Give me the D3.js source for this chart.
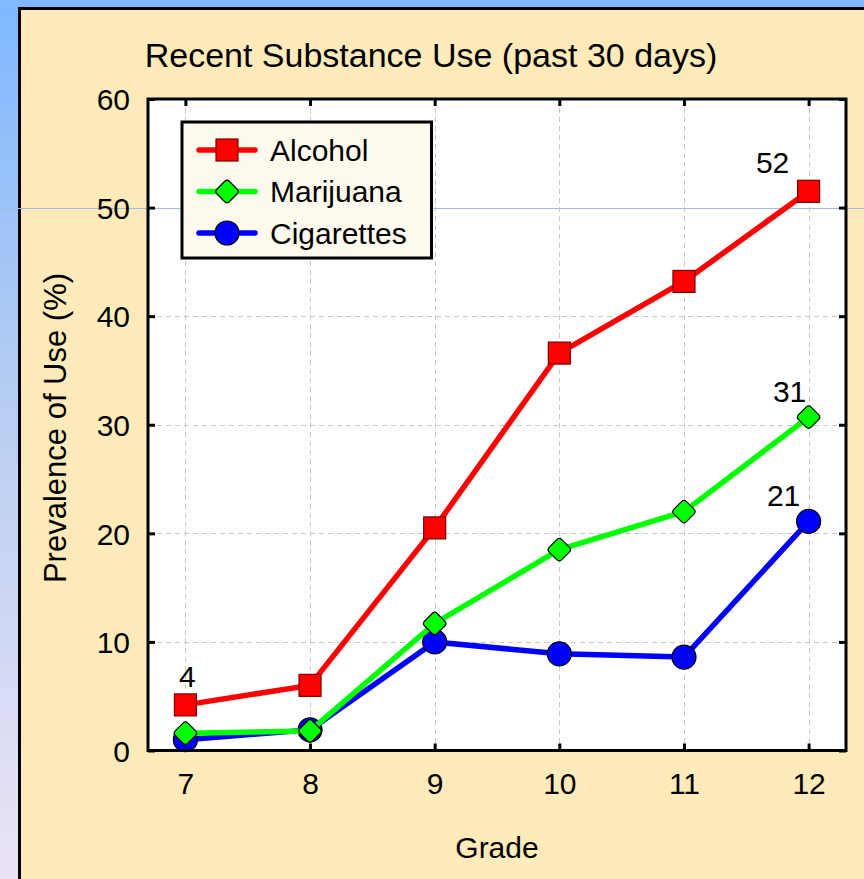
<!DOCTYPE html>
<html>
<head>
<meta charset="utf-8">
<script src="https://cdn.jsdelivr.net/npm/d3@7"></script>
<style>
  html, body { margin: 0; padding: 0; background: #80b9ff; }
  svg { display: block; }
  text { font-family: Arial, "Liberation Sans", sans-serif; fill: #000; }
</style>
</head>
<body>
<script>
// Grades surveyed and the share of students reporting use in the past 30 days
const grades = [7, 8, 9, 10, 11, 12];
const alcohol = [4.2, 6.0, 20.5, 36.6, 43.2, 51.5];
const marijuana = [1.6, 1.8, 11.7, 18.5, 22.0, 30.7];
const cigarettes = [1.0, 1.9, 10.0, 8.9, 8.6, 21.1];
const seriesNames = ["Alcohol", "Marijuana", "Cigarettes"];
const yTicks = [0, 10, 20, 30, 40, 50, 60];

const W = 864, H = 879;
const FONT = "Arial, 'Liberation Sans', sans-serif";
const svg = d3.select("body").append("svg").attr("width", W).attr("height", H);

// Backdrop: blue band with a soft gradient down the left edge
const defs = svg.append("defs");
const grad = defs.append("linearGradient").attr("id", "edge").attr("x1", 0).attr("y1", 0).attr("x2", 0).attr("y2", 1);
grad.append("stop").attr("offset", "0%").attr("stop-color", "#7fb8ff");
grad.append("stop").attr("offset", "45%").attr("stop-color", "#b6cdf2");
grad.append("stop").attr("offset", "100%").attr("stop-color", "#ebe3f5");
svg.append("rect").attr("width", W).attr("height", H).attr("fill", "url(#edge)");
svg.append("rect").attr("width", W).attr("height", 9).attr("fill", "#80b9ff");

// Beige panel
svg.append("rect").attr("x", 19.5).attr("y", 8.5).attr("width", W).attr("height", H)
  .attr("fill", "#ffebb9").attr("stroke", "#000").attr("stroke-width", 3);

const plot = { left: 148, top: 99, right: 846, bottom: 750.5 };
const x = d3.scaleLinear().domain([6.7, 12.3]).range([plot.left, plot.right]);
const y = d3.scaleLinear().domain([0, 60]).range([plot.bottom, plot.top]);

// Plot background
svg.append("rect").attr("x", plot.left).attr("y", plot.top)
  .attr("width", plot.right - plot.left).attr("height", plot.bottom - plot.top).attr("fill", "#fff");

// Dashed grid
const grid = svg.append("g").attr("stroke", "#c8c8c8").attr("stroke-width", 1).attr("stroke-dasharray", "5,4");
grid.selectAll("line.v").data(grades).join("line")
  .attr("x1", d => Math.round(x(d)) + 0.5).attr("x2", d => Math.round(x(d)) + 0.5)
  .attr("y1", plot.top).attr("y2", plot.bottom);
grid.selectAll("line.h").data(yTicks.slice(1, -1)).join("line")
  .attr("x1", plot.left).attr("x2", plot.right)
  .attr("y1", d => Math.round(y(d)) + 0.5).attr("y2", d => Math.round(y(d)) + 0.5);

// Thin guide line running across the whole page at the 50% level
svg.append("line").attr("x1", 0).attr("x2", W)
  .attr("y1", Math.round(y(50)) + 0.5).attr("y2", Math.round(y(50)) + 0.5)
  .attr("stroke", "#9dbde6").attr("stroke-width", 1);

// Axes with inward ticks on all four sides
const tickLen = 7;
const axL = d3.axisLeft(y).tickValues(yTicks).tickSize(-tickLen).tickPadding(18).tickFormat(d3.format("d"));
const axR = d3.axisRight(y).tickValues(yTicks).tickSize(-tickLen).tickFormat("");
const axB = d3.axisBottom(x).tickValues(grades).tickSize(-tickLen).tickPadding(22).tickFormat(d3.format("d"));
const axT = d3.axisTop(x).tickValues(grades).tickSize(-tickLen).tickFormat("");

function styleAxis(g, dy) {
  g.attr("font-size", null).attr("font-family", null);
  g.select(".domain").remove();
  g.selectAll(".tick line").attr("stroke", "#000").attr("stroke-width", 3);
  g.selectAll(".tick text").style("font-size", "30px").style("font-family", FONT)
    .attr("fill", "#000").attr("dy", dy);
}
svg.append("g").attr("transform", `translate(${plot.left},0)`).call(axL).call(styleAxis, "0.36em");
svg.append("g").attr("transform", `translate(${plot.right},0)`).call(axR).call(styleAxis, null);
svg.append("g").attr("transform", `translate(0,${plot.bottom})`).call(axB).call(styleAxis, "0.71em");
svg.append("g").attr("transform", `translate(0,${plot.top})`).call(axT).call(styleAxis, null);

// Series definitions
const series = [
  { name: seriesNames[0], values: alcohol, color: "#ff0000", fill: "#ff0000", edge: "#7a0000", shape: "square" },
  { name: seriesNames[1], values: marijuana, color: "#00ff00", fill: "#00ff00", edge: "#000", shape: "diamond" },
  { name: seriesNames[2], values: cigarettes, color: "#0000ff", fill: "#0000ff", edge: "#000", shape: "circle" }
];

function drawMarker(g, shape, cx, cy, fill, edge) {
  if (shape === "square") {
    g.append("rect").attr("x", cx - 11).attr("y", cy - 11).attr("width", 22).attr("height", 22)
      .attr("fill", fill).attr("stroke", edge).attr("stroke-width", 1.2);
  } else if (shape === "diamond") {
    const r = 12.5, c = 2.5;
    const p = `M${cx - r + c},${cy - c} L${cx - c},${cy - r + c} Q${cx},${cy - r} ${cx + c},${cy - r + c} L${cx + r - c},${cy - c} Q${cx + r},${cy} ${cx + r - c},${cy + c} L${cx + c},${cy + r - c} Q${cx},${cy + r} ${cx - c},${cy + r - c} L${cx - r + c},${cy + c} Q${cx - r},${cy} ${cx - r + c},${cy - c} Z`;
    g.append("path").attr("d", p).attr("fill", fill).attr("stroke", edge).attr("stroke-width", 1.2);
  } else {
    g.append("circle").attr("cx", cx).attr("cy", cy).attr("r", 12)
      .attr("fill", fill).attr("stroke", edge).attr("stroke-width", 1.2);
  }
}

const line = d3.line().x(d => x(d[0])).y(d => y(d[1]));
// Draw back to front: cigarettes, marijuana, alcohol
[...series].reverse().forEach(s => {
  const g = svg.append("g");
  const pts = grades.map((gr, i) => [gr, s.values[i]]);
  g.append("path").attr("d", line(pts)).attr("fill", "none").attr("stroke", s.color)
    .attr("stroke-width", 5.5).attr("stroke-linejoin", "round");
  pts.forEach(p => drawMarker(g, s.shape, x(p[0]), y(p[1]), s.fill, s.edge));
});

// Plot frame
svg.append("rect").attr("x", plot.left).attr("y", plot.top)
  .attr("width", plot.right - plot.left).attr("height", plot.bottom - plot.top)
  .attr("fill", "none").attr("stroke", "#000").attr("stroke-width", 3);

// Value annotations
const notes = [
  { v: alcohol, i: 0, dx: 2, dy: -18 },
  { v: alcohol, i: 5, dx: -36, dy: -18 },
  { v: marijuana, i: 5, dx: -19, dy: -15 },
  { v: cigarettes, i: 5, dx: -25, dy: -15 }
];
notes.forEach(n => {
  svg.append("text").attr("x", x(grades[n.i]) + n.dx).attr("y", y(n.v[n.i]) + n.dy)
    .attr("text-anchor", "middle").style("font-size", "30px")
    .text(Math.round(n.v[n.i]));
});

// Legend
const lg = svg.append("g");
lg.append("rect").attr("x", 182).attr("y", 122).attr("width", 249.5).attr("height", 136)
  .attr("fill", "#fffaee").attr("stroke", "#000").attr("stroke-width", 3);
series.forEach((s, i) => {
  const cy = 150 + i * 41.5;
  lg.append("line").attr("x1", 199).attr("x2", 255).attr("y1", cy).attr("y2", cy)
    .attr("stroke", s.color).attr("stroke-width", 5.5).attr("stroke-linecap", "round");
  drawMarker(lg, s.shape, 227, cy, s.fill, s.edge);
  lg.append("text").attr("x", 270).attr("y", cy).attr("dy", "0.36em").style("font-size", "30px").text(s.name);
});

// Titles
svg.append("text").attr("x", 431).attr("y", 67).attr("text-anchor", "middle")
  .style("font-size", "34px").text("Recent Substance Use (past 30 days)");
svg.append("text").attr("transform", "translate(66,428) rotate(-90)")
  .attr("text-anchor", "middle").style("font-size", "31px").text("Prevalence of Use (%)");
svg.append("text").attr("x", x(9.5)).attr("y", 858).attr("text-anchor", "middle")
  .style("font-size", "30px").text("Grade");
</script>
</body>
</html>
